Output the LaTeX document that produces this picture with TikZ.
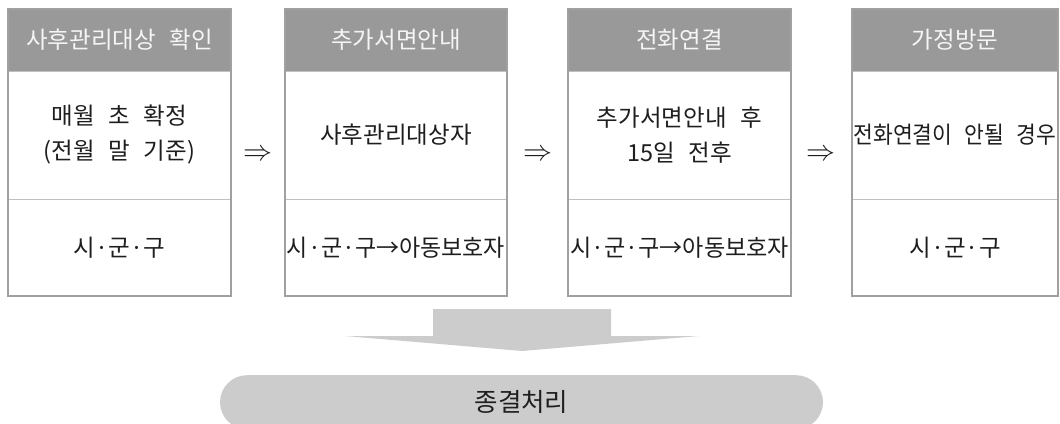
\documentclass[tikz,border=0pt]{standalone}
\usepackage{fontspec}
\usepackage{graphicx}
\newfontfamily\kr[WordSpace=2.6]{Noto Sans CJK KR}
\definecolor{hdrgray}{RGB}{153,153,153}
\definecolor{framegray}{RGB}{160,160,160}
\definecolor{divgray}{RGB}{192,192,192}
\definecolor{lightfill}{RGB}{204,204,204}
\definecolor{bodytext}{RGB}{30,30,30}
\definecolor{headtext}{RGB}{245,245,245}
\begin{document}
\begin{tikzpicture}[x=1pt,y=-1pt,
  head/.style={fill=hdrgray, text=headtext, minimum height=62pt, inner sep=0pt, outer sep=0pt, anchor=north west, font=\kr\fontsize{23.5}{27}\selectfont},
  mid/.style={minimum height=128pt, inner sep=0pt, outer sep=0pt, anchor=north west, align=center, text=bodytext, font=\kr\fontsize{23.5}{35}\selectfont},
  bot/.style={minimum height=97pt, inner sep=0pt, outer sep=0pt, anchor=north west, text=bodytext, font=\kr\fontsize{23.5}{27}\selectfont},
  frame/.style={draw=framegray, line width=2pt},
  divider/.style={draw=divgray, line width=1pt},
  imp/.style={inner sep=0pt, text=bodytext},
  endbar/.style={fill=lightfill, rounded corners=27pt, minimum width=603pt, minimum height=54pt, inner sep=0pt, anchor=north, text=bodytext, font=\kr\fontsize{25.5}{29}\selectfont},
  bigarrow/.style={fill=lightfill}
]
\useasboundingbox (0,0) rectangle (1060,423);
\clip (0,0) rectangle (1060,423);

% box 1
\node[head, minimum width=223pt] (h1) at (8,9) {사후관리대상 확인};
\node[mid, minimum width=223pt] (m1) at (h1.south west) {매월 초 확정\\(전월 말 기준)};
\node[bot, minimum width=223pt] (b1) at (m1.south west) {시·군·구};
% box 2
\node[head, minimum width=222pt] (h2) at (285,9) {추가서면안내};
\node[mid, minimum width=222pt] (m2) at (h2.south west) {사후관리대상자};
\node[bot, minimum width=222pt] (b2) at (m2.south west) {\resizebox{218pt}{\height}{시·군·구→아동보호자}};
% box 3
\node[head, minimum width=223pt] (h3) at (568,9) {전화연결};
\node[mid, minimum width=223pt] (m3) at (h3.south west) {추가서면안내 후\\15일 전후};
\node[bot, minimum width=223pt] (b3) at (m3.south west) {\resizebox{219pt}{\height}{시·군·구→아동보호자}};
% box 4
\node[head, minimum width=206pt] (h4) at (852,9) {가정방문};
\node[mid, minimum width=206pt] (m4) at (h4.south west) {\resizebox{203pt}{\height}{전화연결이 안될 경우}};
\node[bot, minimum width=206pt] (b4) at (m4.south west) {시·군·구};

\foreach \k in {1,2,3,4}{
  \draw[divider] (m\k.north west) -- (m\k.north east);
  \draw[divider] (b\k.north west) -- (b\k.north east);
  \draw[frame] (h\k.north west) rectangle (b\k.south east);
}

% implication arrows
\node[imp] (a1) at (258,155) {\resizebox{29pt}{!}{$\Rightarrow$}};
\node[imp] (a2) at (538,155) {\resizebox{29pt}{!}{$\Rightarrow$}};
\node[imp] (a3) at (821,155) {\resizebox{29pt}{!}{$\Rightarrow$}};

% big down arrow
\fill[bigarrow] (433,309) -- (611,309) -- (611,336) -- (699,336) -- (522,351) -- (345,336) -- (433,336) -- cycle;

% final bar
\node[endbar] (end) at (521.5,375) {종결처리};
\end{tikzpicture}
\end{document}
